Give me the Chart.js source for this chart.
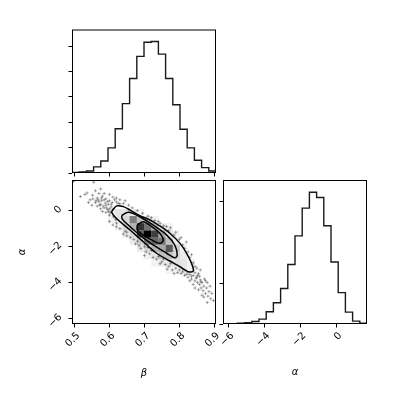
<!DOCTYPE html>
<html><head><meta charset="utf-8">
<script src="https://cdn.jsdelivr.net/npm/chart.js@4/dist/chart.umd.min.js"></script>
<style>
html,body{margin:0;padding:0;background:#fff;}
#wrap{position:relative;width:396px;height:396px;background:#fff;}
#wrap canvas{position:absolute;left:0;top:0;}
</style></head><body>
<div id="wrap">
<canvas id="c1" width="396" height="396"></canvas>
<canvas id="c2" width="396" height="396"></canvas>
<canvas id="c3" width="396" height="396"></canvas>
</div>
<script>
// ---------------- data ----------------
const betaRange = [0.493, 0.905];
const alphaRange = [-6.3, 1.7];
const nBins = 20;
const betaTicks = [0.5, 0.6, 0.7, 0.8, 0.9];
const betaTickLabels = ['0.5', '0.6', '0.7', '0.8', '0.9'];
const alphaTicks = [-6, -4, -2, 0];
const alphaTickLabels = ['−6', '−4', '−2', '0'];
const betaLabel = 'β';
const alphaLabel = 'α';

const betaHist = [0.02, 0.04, 0.08, 0.24, 0.47, 0.99, 1.74, 2.73, 3.72, 4.59, 5.15, 5.18, 4.68, 3.72, 2.69, 1.72, 0.99, 0.50, 0.21, 0.08];
const alphaHist = [0.005, 0.01, 0.02, 0.03, 0.06, 0.12, 0.30, 0.52, 0.87, 1.46, 2.16, 2.84, 3.23, 3.10, 2.41, 1.52, 0.77, 0.29, 0.07, 0.02];
const betaHistMax = 5.65;
const alphaHistMax = 3.53;
const betaHistTicks = [0, 1, 2, 3, 4, 5];
const alphaHistTicks = [0, 1, 2, 3];

// contours (beta, alpha)
const contourOuterBeta  = [0.606, 0.621, 0.640, 0.659, 0.687, 0.716, 0.740, 0.773, 0.802, 0.821, 0.835, 0.840, 0.825, 0.802, 0.773, 0.735, 0.697, 0.659, 0.625, 0.611, 0.606];
const contourOuterAlpha = [-0.06, 0.26, 0.22, 0.03, -0.28, -0.52, -0.80, -1.26, -1.82, -2.37, -2.93, -3.36, -3.39, -3.12, -2.80, -2.37, -1.73, -1.08, -0.52, -0.24, -0.06];
const contourMidBeta  = [0.635, 0.654, 0.687, 0.725, 0.764, 0.787, 0.794, 0.787, 0.764, 0.725, 0.687, 0.654, 0.637, 0.635];
const contourMidAlpha = [-0.28, -0.09, -0.34, -0.80, -1.36, -1.91, -2.47, -2.62, -2.37, -1.91, -1.36, -0.80, -0.47, -0.28];
const contourInnerBeta  = [0.680, 0.697, 0.721, 0.744, 0.754, 0.744, 0.721, 0.697, 0.680, 0.680];
const contourInnerAlpha = [-0.80, -0.62, -0.89, -1.26, -1.63, -1.82, -1.63, -1.36, -1.08, -0.80];

// 2D histogram density (rows: alpha bins from top j=3..13, cols: beta bins i=5..17)
const densityRow0 = 3;
const densityCol0 = 5;
const density = [
  [0,0,0,0,0,0,0,0,0,0,0,0,0],
  [0.05,0.1,0.1,0.08,0.05,0,0,0,0,0,0,0,0],
  [0.05,0.1,0.15,0.5,0.25,0.12,0.06,0,0,0,0,0,0],
  [0,0.06,0.15,0.3,0.8,0.55,0.3,0.1,0.05,0,0,0,0],
  [0,0,0.08,0.15,0.65,1.0,0.75,0.35,0.12,0.05,0,0,0],
  [0,0,0,0.08,0.2,0.5,0.6,0.55,0.25,0.08,0,0,0],
  [0,0,0,0,0.08,0.15,0.3,0.35,0.65,0.2,0.06,0,0],
  [0,0,0,0,0,0.06,0.1,0.25,0.25,0.15,0.08,0,0],
  [0,0,0,0,0,0,0.05,0.08,0.1,0.12,0.1,0.05,0],
  [0,0,0,0,0,0,0,0,0.05,0.05,0.08,0.05,0],
  [0,0,0,0,0,0,0,0,0,0,0,0,0]
];

// sample points outside the contours (beta, alpha)
const betaPts = [
 0.497,0.555,0.517,0.536,0.545,0.552,0.56,0.565,0.57,0.572,0.578,0.58,0.585,0.588,0.59,0.595,0.597,0.6,0.603,0.605,
 0.608,0.612,0.615,0.618,0.62,0.625,0.63,0.64,0.6,0.59,0.575,0.58,0.565,0.55,0.54,0.53,0.56,0.575,0.62,0.61,
 0.585,0.6,0.63,0.645,0.655,0.665,0.68,0.695,0.71,0.72,
 0.57,0.575,0.582,0.59,0.595,0.585,0.592,0.6,0.605,0.61,0.568,0.562,0.577,0.553,0.598,
 0.73,0.745,0.755,0.7635,0.77,0.775,0.785,0.79,0.8,0.805,0.81,0.815,0.82,0.825,0.83,0.835,0.84,0.845,0.74,
 0.8,0.805,0.81,0.815,0.82,0.825,0.83,0.835,0.84,0.845,0.85,0.852,0.855,0.858,0.86,0.862,0.865,0.868,0.87,0.872,
 0.875,0.878,0.88,0.882,0.885,0.888,0.89,0.86,0.85,0.845,0.855,0.84,0.83,0.87,0.875,0.893,0.898,0.88,0.865,0.845,
 0.82,0.83,0.84,0.81,0.825,0.835,0.848,0.858,0.862,0.852,
 0.6,0.61,0.62,0.63,0.64,0.65,0.66,0.67,0.675,0.685,0.69,0.7,0.705,0.715,0.72,0.725,0.735,0.74,0.75,0.755,
 0.76,0.77,0.775,0.78,0.79,0.795,0.65,0.68,0.71,0.745,0.765,0.785,0.62,0.645,0.7
];
const alphaPts = [
 1.62,1.58,0.78,0.98,0.6,0.85,0.45,0.7,0.95,0.3,0.55,0.8,0.15,0.42,0.65,0.05,0.35,0.55,-0.1,0.2,
 0.45,-0.35,0.6,-0.5,0.48,0.4,0.38,0.4,-0.25,-0.1,0.1,-0.05,0.25,0.3,0.45,0.9,1.1,1.2,0.7,0.75,
 0.95,0.9,0.6,0.55,0.3,0.15,0.0,-0.15,-0.3,-0.4,
 0.5,0.35,0.25,0.3,0.5,0.6,0.15,0.1,0.35,0.05,0.6,0.55,0.7,0.65,-0.05,
 -0.55,-0.7,-0.85,-0.89,-1.1,-0.95,-1.35,-1.2,-1.6,-1.5,-1.9,-2.1,-1.75,-2.3,-2.6,-2.45,-2.9,-3.1,-0.6,
 -3.3,-3.5,-3.4,-3.6,-3.55,-3.7,-3.55,-3.8,-3.6,-3.9,-3.7,-4.0,-3.5,-4.1,-3.85,-4.3,-4.0,-4.45,-4.2,-3.8,
 -4.6,-4.3,-4.0,-4.75,-4.5,-4.2,-4.9,-3.3,-3.2,-3.45,-4.4,-4.1,-3.9,-4.8,-3.9,-4.6,-5.0,-5.1,-4.7,-4.3,
 -3.2,-3.35,-3.3,-3.25,-3.45,-3.65,-3.75,-3.65,-3.95,-3.6,
 -0.6,-0.8,-0.9,-1.0,-1.3,-1.4,-1.5,-1.6,-1.85,-1.95,-2.1,-2.0,-2.3,-2.4,-2.2,-2.6,-2.7,-2.55,-2.85,-2.7,
 -3.0,-3.1,-2.95,-3.3,-3.2,-3.45,-1.2,-1.7,-2.05,-2.95,-3.25,-3.5,-0.7,-1.15,-2.5
];

// ---------------- helpers ----------------
Chart.defaults.font.family = '"DejaVu Sans"';
Chart.defaults.color = '#000';
const FONT = {family:'"DejaVu Sans"', size:10};

function edges(r){ const w=(r[1]-r[0])/nBins; const e=[]; for(let i=0;i<=nBins;i++) e.push(r[0]+w*i); return e; }
function stepData(r, vals){ const e=edges(r); const d=vals.map((v,i)=>({x:e[i],y:v})); d.push({x:e[nBins],y:vals[nBins-1]}); return d; }
function pairs(xs, ys){ return xs.map((x,i)=>({x:x,y:ys[i]})); }

function scale(o){
  return {
    type:'linear', min:o.min, max:o.max, position:o.position,
    afterBuildTicks:s=>{ s.ticks=o.ticks.map(v=>({value:v})); },
    afterFit:s=>{ if(o.position==='bottom') s.height=o.size; else s.width=o.size; },
    grid:{display:true, drawOnChartArea:false, drawTicks:true, tickLength:3.5, color:'#000', lineWidth:1},
    border:{display:false},
    ticks:{display:!!o.labels, color:'#000', font:FONT, minRotation:45, maxRotation:45, autoSkip:false,
      padding:o.pad||0, labelOffset:o.lo||0, callback:(v,i)=>o.labels?o.labels[i]:''},
    title:o.title?{display:true, text:o.title, color:'#000', font:{family:'"DejaVu Sans"', size:10, style:'italic'}, padding:o.titlePad}:{display:false}
  };
}

const framePlugin = {id:'frame', afterDatasetsDraw(chart){
  const {ctx, chartArea:a} = chart; ctx.save(); ctx.strokeStyle='#000'; ctx.lineWidth=1;
  ctx.strokeRect(a.left+0.5, a.top+0.5, a.right-a.left-1, a.bottom-a.top-1); ctx.restore(); }};

const densityPlugin = {id:'density', afterDatasetDraw(chart, args){
  if (chart.data.datasets[args.index].label !== 'samples') return;
  const {ctx, chartArea:a, scales:{x, y}} = chart;
  ctx.save(); ctx.beginPath(); ctx.rect(a.left, a.top, a.right-a.left, a.bottom-a.top); ctx.clip();
  // white fill inside outermost contour
  ctx.beginPath();
  contourOuterBeta.forEach((b,i)=>{ const px=x.getPixelForValue(b), py=y.getPixelForValue(contourOuterAlpha[i]); if(i===0) ctx.moveTo(px,py); else ctx.lineTo(px,py); });
  ctx.closePath(); ctx.fillStyle='#fff'; ctx.fill();
  const bw=(betaRange[1]-betaRange[0])/nBins, aw=(alphaRange[1]-alphaRange[0])/nBins;
  density.forEach((row,r)=>row.forEach((v,c)=>{
    if(!v) return;
    const i=densityCol0+c, j=densityRow0+r;
    const x0=x.getPixelForValue(betaRange[0]+bw*i), x1=x.getPixelForValue(betaRange[0]+bw*(i+1));
    const y0=y.getPixelForValue(alphaRange[1]-aw*j), y1=y.getPixelForValue(alphaRange[1]-aw*(j+1));
    ctx.fillStyle='rgba(0,0,0,'+v+')'; ctx.fillRect(x0, y0, x1-x0, y1-y0);
  }));
  ctx.restore(); }};

const base = {responsive:false, animation:false, devicePixelRatio:1, events:[],
  plugins:{legend:{display:false}, tooltip:{enabled:false}}};

function histDataset(r, vals){
  return {data:stepData(r, vals), stepped:'before', borderColor:'#1a1a1a', borderWidth:1.4, pointRadius:0, fill:false, clip:0};
}

// top: beta histogram
new Chart(document.getElementById('c1'), {
  type:'line',
  data:{datasets:[histDataset(betaRange, betaHist)]},
  options:Object.assign({}, base, {
    layout:{padding:{left:52, top:29.5, right:180, bottom:203}},
    scales:{
      x:scale({min:betaRange[0], max:betaRange[1], ticks:betaTicks, position:'bottom', size:20}),
      y:scale({min:0, max:betaHistMax, ticks:betaHistTicks, position:'left', size:20})
    }}),
  plugins:[framePlugin]
});

// 2D: beta vs alpha
new Chart(document.getElementById('c2'), {
  type:'scatter',
  data:{datasets:[
    {label:'samples', data:pairs(betaPts, alphaPts), pointStyle:'cross', pointRadius:1.6, pointBorderWidth:1, borderColor:'rgba(0,0,0,0.32)', backgroundColor:'rgba(0,0,0,0.32)', order:10, clip:0},
    {label:'c1', data:pairs(contourOuterBeta, contourOuterAlpha), showLine:true, tension:0.35, borderColor:'#000', borderWidth:1.5, pointRadius:0, order:1, clip:0},
    {label:'c2', data:pairs(contourMidBeta, contourMidAlpha), showLine:true, tension:0.35, borderColor:'#000', borderWidth:1.5, pointRadius:0, order:1, clip:0},
    {label:'c3', data:pairs(contourInnerBeta, contourInnerAlpha), showLine:true, tension:0.35, borderColor:'#000', borderWidth:1.5, pointRadius:0, order:1, clip:0}
  ]},
  options:Object.assign({}, base, {
    layout:{padding:{left:0, top:180, right:180, bottom:0}},
    scales:{
      x:scale({min:betaRange[0], max:betaRange[1], ticks:betaTicks, labels:betaTickLabels, position:'bottom', size:72, pad:2.5, lo:4, title:betaLabel, titlePad:{top:0,bottom:17}}),
      y:scale({min:alphaRange[0], max:alphaRange[1], ticks:alphaTicks, labels:alphaTickLabels, position:'left', size:72, pad:8, lo:-3, title:alphaLabel, titlePad:{top:16,bottom:0}})
    }}),
  plugins:[densityPlugin, framePlugin]
});

// right: alpha histogram
new Chart(document.getElementById('c3'), {
  type:'line',
  data:{datasets:[histDataset(alphaRange, alphaHist)]},
  options:Object.assign({}, base, {
    layout:{padding:{left:203, top:180, right:29, bottom:0}},
    scales:{
      x:scale({min:alphaRange[0], max:alphaRange[1], ticks:alphaTicks, labels:alphaTickLabels, position:'bottom', size:72, pad:2.5, lo:4, title:alphaLabel, titlePad:{top:0,bottom:18}}),
      y:scale({min:0, max:alphaHistMax, ticks:alphaHistTicks, position:'left', size:20})
    }}),
  plugins:[framePlugin]
});
</script>
</body></html>
